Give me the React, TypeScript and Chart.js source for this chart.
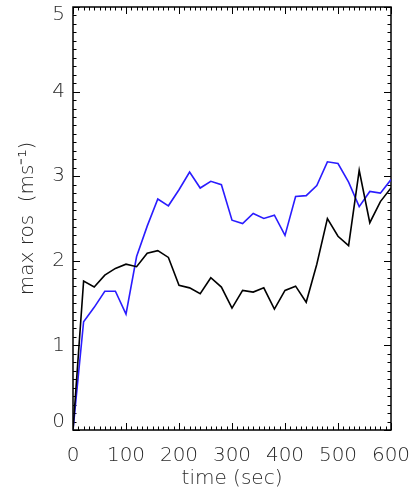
import React, { useEffect, useRef } from "react";
import { Chart, registerables } from "chart.js";

Chart.register(...registerables);

const timeSec = [0, 20, 40, 60, 80, 100, 120, 140, 160, 180, 200, 220, 240, 260, 280, 300, 320, 340, 360, 380, 400, 420, 440, 460, 480, 500, 520, 540, 560, 580, 600];
const blackSeries = [0, 1.76, 1.69, 1.83, 1.91, 1.96, 1.93, 2.09, 2.12, 2.04, 1.71, 1.68, 1.61, 1.80, 1.69, 1.44, 1.65, 1.63, 1.68, 1.43, 1.65, 1.70, 1.51, 1.96, 2.50, 2.29, 2.18, 3.07, 2.45, 2.70, 2.86];
const blueSeries = [0, 1.28, 1.45, 1.64, 1.64, 1.37, 2.05, 2.41, 2.73, 2.65, 2.84, 3.05, 2.86, 2.94, 2.90, 2.48, 2.44, 2.56, 2.50, 2.54, 2.30, 2.76, 2.77, 2.89, 3.17, 3.15, 2.93, 2.64, 2.82, 2.80, 2.96];
const xTicks = [0, 100, 200, 300, 400, 500, 600];
const yTicks = [0, 1, 2, 3, 4, 5];

const FONT = "'DejaVu Sans', sans-serif";
const TEXT_COLOR = "#2a2a2a";

const framePlugin = {
  id: "frame",
  beforeDatasetsDraw(chart: any) {
    const { ctx, chartArea } = chart;
    const { left, right, top, bottom } = chartArea;
    const xs = chart.scales.x;
    const ys = chart.scales.y;
    ctx.save();
    ctx.strokeStyle = "#000";
    ctx.lineWidth = 1;
    ctx.beginPath();
    for (let i = 0; i <= 60; i++) {
      const v = i * 10;
      const px = Math.round(xs.getPixelForValue(v)) + 0.5;
      const len = i % 10 === 0 ? 7 : 3.5;
      ctx.moveTo(px, bottom);
      ctx.lineTo(px, bottom - len);
      ctx.moveTo(px, top);
      ctx.lineTo(px, top + len);
    }
    for (let i = 0; i <= 50; i++) {
      const v = i / 10;
      const py = Math.round(ys.getPixelForValue(v)) + 0.5;
      const len = i % 10 === 0 ? 7 : 3.5;
      ctx.moveTo(left, py);
      ctx.lineTo(left + len, py);
      ctx.moveTo(right, py);
      ctx.lineTo(right - len, py);
    }
    ctx.stroke();
    ctx.lineWidth = 1.5;
    ctx.strokeRect(left, top, right - left, bottom - top);

    // y tick labels (end labels kept inside the axis span)
    ctx.fillStyle = TEXT_COLOR;
    ctx.font = `200 20px ${FONT}`;
    ctx.textAlign = "right";
    ctx.textBaseline = "middle";
    yTicks.forEach((v) => {
      let py = ys.getPixelForValue(v);
      py = Math.min(Math.max(py, top + 8), bottom - 8);
      ctx.fillText(String(v), left - 8, py);
    });
    ctx.restore();
  },
};

export default function App() {
  const canvasRef = useRef<HTMLCanvasElement | null>(null);

  useEffect(() => {
    if (!canvasRef.current) return;
    const chart = new Chart(canvasRef.current, {
      type: "line",
      data: {
        datasets: [
          {
            label: "black",
            data: timeSec.map((t, i) => ({ x: t, y: blackSeries[i] })),
            borderColor: "#000000",
            borderWidth: 1.6,
            pointRadius: 0,
            tension: 0,
            fill: false,
          },
          {
            label: "blue",
            data: timeSec.map((t, i) => ({ x: t, y: blueSeries[i] })),
            borderColor: "#2a1cff",
            borderWidth: 1.6,
            pointRadius: 0,
            tension: 0,
            fill: false,
          },
        ],
      },
      options: {
        animation: false,
        responsive: true,
        maintainAspectRatio: false,
        layout: { autoPadding: false, padding: { top: 7, right: 23, bottom: 0, left: 0 } },
        plugins: {
          legend: { display: false },
          tooltip: { enabled: false },
        },
        scales: {
          x: {
            type: "linear",
            min: 0,
            max: 600,
            grid: { display: false, drawTicks: false },
            border: { display: false },
            afterBuildTicks: (scale: any) => {
              scale.ticks = xTicks.map((v) => ({ value: v }));
            },
            afterFit: (scale: any) => {
              scale.height = 66;
              scale.paddingLeft = 0;
              scale.paddingRight = 0;
            },
            ticks: {
              padding: 14,
              maxRotation: 0,
              autoSkip: false,
              color: TEXT_COLOR,
              font: { family: FONT, size: 20, weight: "200" },
            },
            title: {
              display: true,
              text: "time (sec)",
              color: TEXT_COLOR,
              font: { family: FONT, size: 20, weight: "200" },
              padding: { top: 0, bottom: 5 },
            },
          },
          y: {
            type: "linear",
            min: 0,
            max: 5,
            grid: { display: false, drawTicks: false },
            border: { display: false },
            afterBuildTicks: (scale: any) => {
              scale.ticks = yTicks.map((v) => ({ value: v }));
            },
            afterFit: (scale: any) => {
              scale.width = 73;
              scale.paddingTop = 0;
              scale.paddingBottom = 0;
            },
            ticks: {
              display: false,
            },
            title: {
              display: true,
              text: "max ros  (ms⁻¹)",
              color: TEXT_COLOR,
              font: { family: FONT, size: 20, weight: "200" },
              padding: { top: 16, bottom: 0 },
            },
          },
        },
      },
      plugins: [framePlugin],
    });
    return () => chart.destroy();
  }, []);

  return (
    <div style={{ position: "absolute", left: 0, top: 0, width: 414, height: 496, background: "#fff" }}>
      <canvas ref={canvasRef} />
    </div>
  );
}
